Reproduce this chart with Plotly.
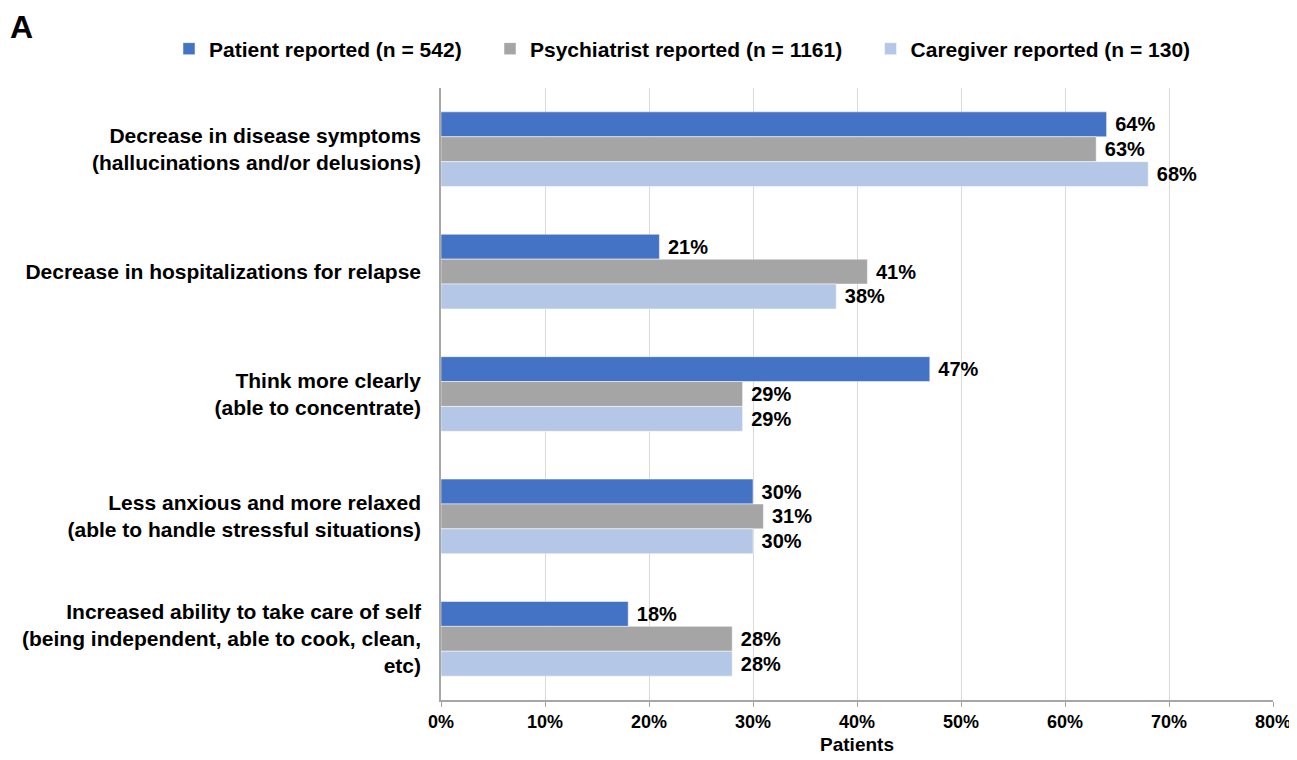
import plotly.graph_objects as go

categories = [
    "Decrease in disease symptoms<br>(hallucinations and/or delusions)",
    "Decrease in hospitalizations for relapse",
    "Think more clearly<br>(able to concentrate)",
    "Less anxious and more relaxed<br>(able to handle stressful situations)",
    "Increased ability to take care of self<br>(being independent, able to cook, clean,<br>etc)",
]
series_names = [
    "Patient reported (n = 542)",
    "Psychiatrist reported (n = 1161)",
    "Caregiver reported (n = 130)",
]
patient = [64, 21, 47, 30, 18]
psychiatrist = [63, 41, 29, 31, 28]
caregiver = [68, 38, 29, 30, 28]
colors = ["#4472C4", "#A5A5A5", "#B4C7E7"]
tick_vals = [0, 10, 20, 30, 40, 50, 60, 70, 80]
tick_text = [f"{v}%" for v in tick_vals]

FONT = "Liberation Sans, Arial, sans-serif"
NB = "\u00a0"
# page body has an 8px margin; compensate so the plot lands where the reference has it
OFF = 8
W, H = 1297, 760
L, R, T, B = 441 - OFF, W - 1273 + OFF, 88 - OFF, H - 700 + OFF
PW, PH = W - L - R, H - T - B

fig = go.Figure()
for i, (name, vals, col) in enumerate(zip(series_names, [patient, psychiatrist, caregiver], colors)):
    pad = NB * 4 if i < 2 else ""
    fig.add_trace(go.Bar(
        y=categories, x=vals, orientation="h", name=f"<b>{name}</b>{pad}",
        marker=dict(color=col, line=dict(color="white", width=0.5)),
        text=[f"{NB}<b>{v}%</b>" for v in vals], textposition="outside",
        textfont=dict(family=FONT, size=20, color="black"),
        cliponaxis=False,
    ))

fig.update_layout(
    width=W, height=H,
    margin=dict(l=L, r=R, t=T, b=B, autoexpand=False),
    paper_bgcolor="white", plot_bgcolor="white",
    barmode="group", bargap=0.39, bargroupgap=0,
    font=dict(family=FONT, color="black"),
    showlegend=True,
    legend=dict(orientation="h", xref="paper", yref="paper",
                x=(189 - OFF - 20 - L) / PW, y=1 + (T - (49 - OFF)) / PH,
                xanchor="left", yanchor="middle",
                font=dict(family=FONT, size=21, color="black"),
                traceorder="normal", itemwidth=30,
                bgcolor="rgba(0,0,0,0)"),
    xaxis=dict(range=[0, 80], tickvals=tick_vals, ticktext=[f"<b>{t}</b>" for t in tick_text],
               tickfont=dict(family=FONT, size=18, color="black"),
               showgrid=True, gridcolor="#D9D9D9", gridwidth=1,
               showline=True, linecolor="#A6A6A6", linewidth=1.5,
               ticks="outside", tickcolor="#A6A6A6", ticklen=5,
               zeroline=False,
               title=dict(text="<b>Patients</b>", font=dict(family=FONT, size=19), standoff=6)),
    yaxis=dict(autorange="reversed", showline=True, linecolor="#A6A6A6", linewidth=1.5,
               ticks="", tickfont=dict(family=FONT, size=21, color="black"),
               ticklabelstandoff=14,
               tickvals=categories, ticktext=[f"<b>{c}</b>" for c in categories]),
    annotations=[dict(text="<b>A</b>", x=(22 - 441) / PW, y=(700 - 27) / PH,
                      xref="paper", yref="paper", xanchor="center", yanchor="middle",
                      showarrow=False, font=dict(family=FONT, size=32, color="black"))],
)
fig.write_html("out.html")
